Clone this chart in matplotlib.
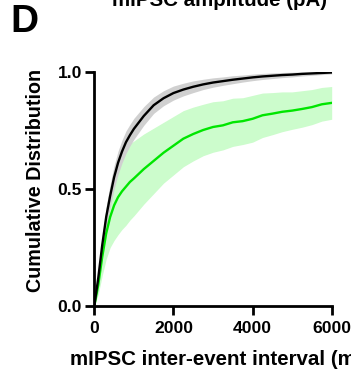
import numpy as np
from matplotlib import pyplot as plt

plt.rcParams['font.family'] = ['Liberation Sans', 'DejaVu Sans']
plt.rcParams['font.weight'] = 'bold'

# inter-event interval (ms)
interval = [0, 100, 200, 300, 400, 500, 600, 700, 800, 900, 1000, 1250,
            1500, 1750, 2000, 2250, 2500, 2750, 3000, 3250, 3500, 3750,
            4000, 4250, 4500, 4750, 5000, 5250, 5500, 5750, 6000]

# control (black)
ctrl_mean = [0, 0.12, 0.26, 0.38, 0.47, 0.55, 0.612, 0.66, 0.70, 0.73,
             0.757, 0.812, 0.858, 0.888, 0.91, 0.925, 0.937, 0.947, 0.955,
             0.961, 0.967, 0.972, 0.977, 0.981, 0.984, 0.987, 0.989, 0.992,
             0.994, 0.996, 0.998]
ctrl_sem = [0, 0.02, 0.035, 0.045, 0.05, 0.05, 0.05, 0.049, 0.048, 0.046,
            0.045, 0.04, 0.035, 0.032, 0.03, 0.027, 0.025, 0.022, 0.02,
            0.018, 0.017, 0.015, 0.014, 0.013, 0.012, 0.011, 0.01, 0.009,
            0.008, 0.007, 0.006]

# treated (green)
trt_mean = [0, 0.09, 0.21, 0.31, 0.38, 0.43, 0.465, 0.49, 0.51, 0.53,
            0.545, 0.585, 0.62, 0.655, 0.685, 0.715, 0.735, 0.752, 0.765,
            0.772, 0.785, 0.79, 0.80, 0.815, 0.822, 0.83, 0.835, 0.842,
            0.85, 0.862, 0.868]
trt_sem = [0, 0.04, 0.08, 0.11, 0.13, 0.15, 0.16, 0.163, 0.165, 0.163,
           0.16, 0.15, 0.14, 0.13, 0.125, 0.12, 0.115, 0.11, 0.108, 0.105,
           0.103, 0.1, 0.1, 0.095, 0.09, 0.085, 0.08, 0.078, 0.075, 0.072,
           0.07]

x = np.array(interval)
cm, cs = np.array(ctrl_mean), np.array(ctrl_sem)
tm, ts = np.array(trt_mean), np.array(trt_sem)

fig = plt.figure(figsize=(3.51, 3.81), dpi=100)
ax = fig.add_axes([0.2687, 0.197, 0.6763, 0.614])

ax.fill_between(x, tm - ts, np.minimum(tm + ts, 1.0), color='#ccfccc', lw=0)
ax.fill_between(x, cm - cs, np.minimum(cm + cs, 1.0), color='#d0d0d0', lw=0)
ax.plot(x, tm, color='#00e600', lw=1.7)
ax.plot(x, cm, color='black', lw=1.7)

ax.set_xlim(0, 6000)
ax.set_ylim(0, 1.0)
ax.set_xticks([0, 2000, 4000, 6000])
ax.set_yticks([0.0, 0.5, 1.0])
ax.set_yticklabels(['0.0', '0.5', '1.0'])
for s in ['top', 'right']:
    ax.spines[s].set_visible(False)
for s in ['left', 'bottom']:
    ax.spines[s].set_linewidth(2.0)
ax.tick_params(width=2.0, length=6.5, labelsize=12.6)
ax.tick_params(axis='x', pad=4.5)
ax.tick_params(axis='y', pad=2.5)
for lab in ax.get_xticklabels() + ax.get_yticklabels():
    lab.set_fontweight('bold')

ax.set_xlabel('mIPSC inter-event interval (ms)', fontsize=14.8,
              fontweight='bold')
ax.xaxis.set_label_coords(0.538, -0.19)
ax.set_ylabel('Cumulative Distribution', fontsize=14.2, fontweight='bold')
ax.yaxis.set_label_coords(-0.208, 0.538)

fig.text(10/351, 1 - 32/381, 'D', fontsize=28, fontweight='bold',
         va='baseline', ha='left')
fig.text(220/351, 1 - 6/381, 'mIPSC amplitude (pA)', fontsize=14.8,
         fontweight='bold', va='baseline', ha='center')

plt.savefig('out.png', dpi=100)
